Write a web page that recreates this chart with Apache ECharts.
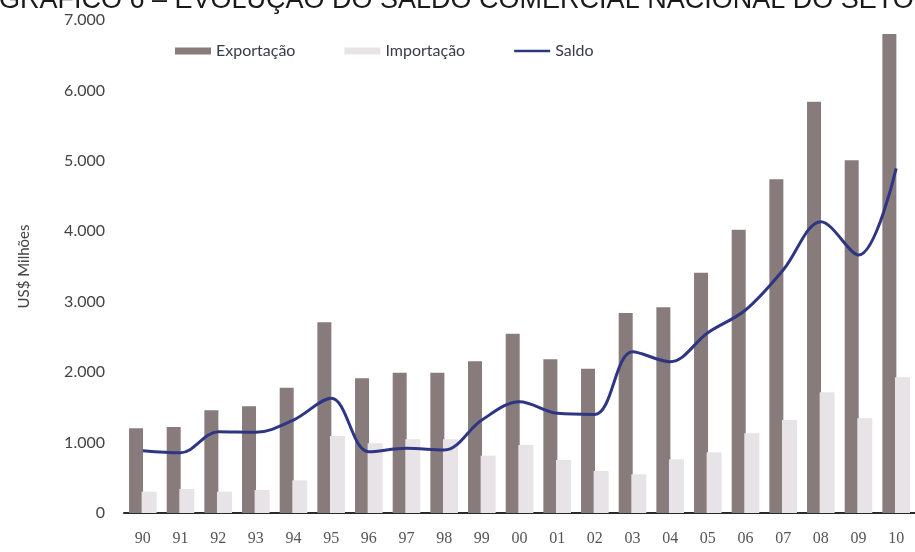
<!DOCTYPE html>
<html>
<head>
<meta charset="utf-8">
<script src="https://cdn.jsdelivr.net/npm/echarts@6/dist/echarts.min.js"></script>
<style>html,body{margin:0;padding:0;background:#fff;}#c{width:915px;height:552px;}</style>
</head>
<body>
<div id="c"></div>
<script>
const categories = ['90','91','92','93','94','95','96','97','98','99','00','01','02','03','04','05','06','07','08','09','10'];
const exportacao = [1203,1221,1458,1515,1779,2708,1913,1992,1992,2154,2546,2182,2049,2840,2921,3412,4022,4738,5840,5008,6800];
const importacao = [302,341,302,327,464,1093,990,1046,1046,814,966,753,596,549,762,862,1132,1320,1714,1345,1927];
const saldo = [885,856,1154,1146,1320,1629,870,919,895,1320,1580,1416,1400,2290,2148,2560,2882,3450,4136,3663,4894];
const yTicks = [0,1000,2000,3000,4000,5000,6000,7000];
const titleText = 'GRÁFICO 6 – EVOLUÇÃO DO SALDO COMERCIAL NACIONAL DO SETOR';

const chart = echarts.init(document.getElementById('c'), null, {renderer:'canvas'});
chart.setOption({
  backgroundColor:'#ffffff',
  animation:false,
  title:{
    text:titleText, left:-6, top:-18,
    textStyle:{fontFamily:'Liberation Sans', fontSize:27, fontWeight:'normal', color:'#1a1a1a'}
  },
  legend:{
    left:170, top:38,
    itemWidth:36, itemHeight:7, itemGap:49,
    textStyle:{fontFamily:'Lato', fontSize:16, color:'#3a3a4a'},
    data:[
      {name:'Exportação', icon:'rect'},
      {name:'Importação', icon:'rect'},
      {name:'Saldo', icon:'path://M0,0 L40,0 L40,3 L0,3 Z'}
    ]
  },
  grid:{left:124, right:-11, top:20, bottom:39, containLabel:false},
  xAxis:{
    type:'category', data:categories,
    axisLine:{lineStyle:{color:'#2a2a2a', width:2}},
    axisTick:{show:false},
    axisLabel:{fontFamily:'Liberation Serif', fontSize:16, color:'#555', margin:18}
  },
  yAxis:{
    type:'value', min:0, max:7000, interval:1000,
    name:'US$ Milhões', nameLocation:'middle', nameGap:92, nameRotate:90,
    nameTextStyle:{fontFamily:'Lato', fontSize:15, color:'#444'},
    axisLine:{show:false}, axisTick:{show:false}, splitLine:{show:false},
    axisLabel:{fontFamily:'Lato', fontSize:16, color:'#444', margin:19,
      formatter:function(v){ return v===0 ? '0' : (v/1000)+'.000'; }}
  },
  series:[
    {name:'Exportação', type:'bar', data:exportacao, barWidth:14, barGap:'-10%',
      itemStyle:{color:'#877c7b'}},
    {name:'Importação', type:'bar', data:importacao, barWidth:15,
      itemStyle:{color:'#e7e3e6'}},
    {name:'Saldo', type:'line', data:saldo, smooth:0.35, showSymbol:false, symbol:'none',
      lineStyle:{color:'#2e3684', width:3}, itemStyle:{color:'#2e3684'}, z:5}
  ]
});
</script>
</body>
</html>
